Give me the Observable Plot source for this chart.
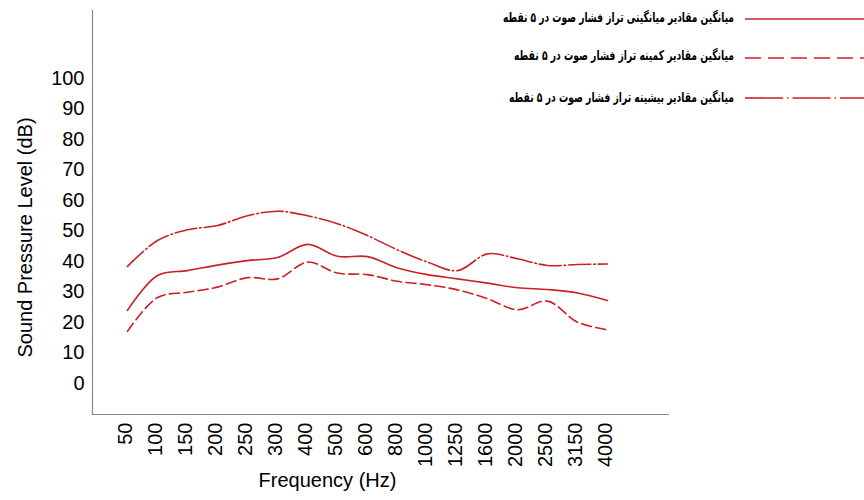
<!DOCTYPE html>
<html>
<head>
<meta charset="utf-8">
<script src="https://cdn.jsdelivr.net/npm/d3@7"></script>
<script src="https://cdn.jsdelivr.net/npm/@observablehq/plot@0.6"></script>
<style>
  html, body { margin: 0; padding: 0; background: #fff; }
  #wrap { position: relative; width: 864px; height: 500px; }
  #legend { position: absolute; left: 0; top: 0; }
</style>
</head>
<body>
<div id="wrap"></div>
<script>
const frequencies = ["50","100","150","200","250","300","400","500","600","800","1000","1250","1600","2000","2500","3150","4000"];
const meanValues = [24, 35.4, 37, 38.8, 40.3, 41.3, 45.6, 41.7, 41.6, 37.9, 35.7, 34.3, 32.9, 31.4, 30.8, 29.7, 27.2];
const minValues  = [17.1, 28.2, 29.9, 31.6, 34.7, 34.3, 39.8, 36.2, 35.7, 33.5, 32.4, 30.7, 27.8, 24.2, 27, 20.1, 17.6];
const maxValues  = [38.4, 46.9, 50.4, 51.8, 55, 56.5, 55, 52.4, 48.5, 43.8, 39.8, 37, 42.5, 40.9, 38.7, 39, 39.2];
const yTicks = [0,10,20,30,40,50,60,70,80,90,100];
const seriesNames = [
  "میانگین مقادیر میانگینی تراز فشار صوت در ۵ نقطه",
  "میانگین مقادیر کمینه تراز فشار صوت در ۵ نقطه",
  "میانگین مقادیر بیشینه تراز فشار صوت در ۵ نقطه"
];
const seriesDash = [null, "10,4.5", "22,3,1.5,3"];
const lineColor = "#cc2027";

const seriesValues = [meanValues, minValues, maxValues];
const data = seriesValues.flatMap((vals, s) =>
  vals.map((v, i) => ({freq: frequencies[i], value: v, series: s})));

const lineMarks = seriesValues.map((vals, s) =>
  Plot.line(data.filter(d => d.series === s), {
    x: "freq", y: "value", curve: "catmull-rom",
    stroke: lineColor, strokeWidth: 1.6,
    strokeDasharray: seriesDash[s] || undefined
  }));

const chart = Plot.plot({
  width: 864,
  height: 500,
  marginLeft: 92,
  marginTop: 10,
  marginBottom: 86,
  marginRight: 196,
  style: {fontFamily: "'Liberation Sans', Arial, sans-serif", background: "#fff", color: "#000"},
  x: {type: "point", domain: frequencies, range: [123, 611], padding: 0},
  y: {domain: [0, 100], range: [383, 78]},
  marks: [
    Plot.frame({anchor: "left", stroke: "#8a8a8a", strokeWidth: 1.2}),
    Plot.frame({anchor: "bottom", stroke: "#8a8a8a", strokeWidth: 1.2}),
    Plot.axisY({ticks: yTicks, tickSize: 0, tickPadding: 8, fontSize: 20, label: null}),
    Plot.axisX({tickSize: 0, tickPadding: 8, tickRotate: -90, fontSize: 20, label: null, dx: -2}),
    ...lineMarks,
    Plot.text(["Sound Pressure Level (dB)"], {frameAnchor: "left", textAnchor: "middle", dx: -67, dy: 25, rotate: -90, fontSize: 20, fill: "#000"}),
    Plot.text(["Frequency (Hz)"], {frameAnchor: "bottom", textAnchor: "middle", dx: -53, dy: 72, fontSize: 20, fill: "#000"})
  ]
});
document.getElementById("wrap").appendChild(chart);

// legend
const legend = d3.select("#wrap").append("svg")
  .attr("id", "legend").attr("width", 864).attr("height", 110);
const rowLineY = [19, 58, 98];
const rowTextY = [17, 55, 97];
const rowTextWidth = [231, 220, 225];
seriesNames.forEach((name, i) => {
  legend.append("text")
    .attr("x", 734).attr("y", rowTextY[i])
    .attr("dy", "0.35em")
    .attr("text-anchor", "end")
    .attr("font-family", "'DejaVu Sans', sans-serif")
    .attr("font-weight", "bold")
    .attr("font-size", 13.5)
    .attr("textLength", rowTextWidth[i])
    .attr("lengthAdjust", "spacingAndGlyphs")
    .attr("fill", "#000")
    .text(name);
  legend.append("line")
    .attr("x1", 745).attr("x2", 864)
    .attr("y1", rowLineY[i]).attr("y2", rowLineY[i])
    .attr("stroke", lineColor).attr("stroke-width", 1.6)
    .attr("stroke-dasharray", i === 1 ? "16,7" : i === 2 ? "38,4,1.5,4" : null);
});
</script>
</body>
</html>
